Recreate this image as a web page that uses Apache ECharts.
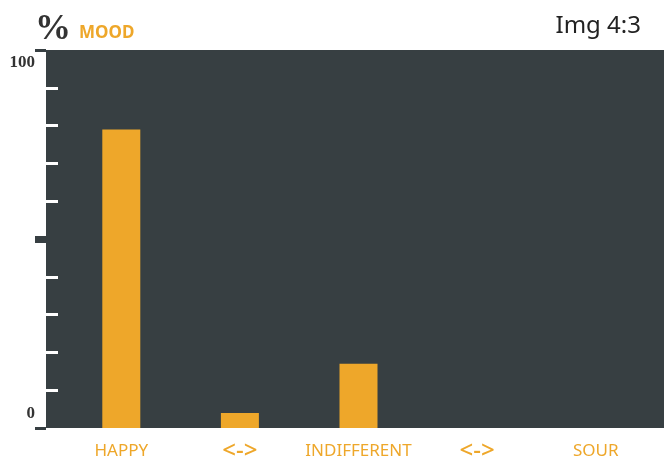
<!DOCTYPE html>
<html>
<head>
<meta charset="utf-8">
<script src="https://cdn.jsdelivr.net/npm/echarts@6/dist/echarts.min.js"></script>
<style>
  html, body { margin: 0; padding: 0; background: #fff; }
  #chart { width: 664px; height: 459px; }
</style>
</head>
<body>
<div id="chart"></div>
<script>
// data
const categories = ['HAPPY', '<->', 'INDIFFERENT', '<->', 'SOUR']
const moodValues = [79, 4, 17, 0, 0]
const yLabelValues = [0, 100]        // only these get a label
const yMidTick = [50]                // the fat tick in the middle
const yMinorTicks = [10, 20, 30, 40, 60, 70, 80, 90]

const DARK = '#373f42'
const ORANGE = '#eea72a'

const chart = echarts.init(document.getElementById('chart'))

// shared y range
const yBase = { type: 'value', min: 0, max: 100, splitLine: { show: false }, axisLine: { show: false } }

const yLabelFont = { color: '#333', fontFamily: 'Liberation Serif', fontWeight: 'bold', fontSize: 17 }

const option = {
  animation: false,
  graphic: [
    { type: 'text', left: 35, top: 12, style: { text: '%', font: 'bold 36px "Liberation Serif"', fill: '#333' } },
    { type: 'text', left: 79, top: 25, style: { text: 'MOOD', font: 'bold 17px "Noto Sans"', fill: ORANGE } },
    { type: 'text', right: 23, top: 14, style: { text: 'Img 4:3', font: '24px "Noto Sans"', fill: '#222' } }
  ],
  grid: [
    // background + y axis
    { left: 46, right: 0, top: 50, bottom: 31, show: true, backgroundColor: DARK, borderWidth: 0, outerBoundsMode: 'none' },
    // bars
    { left: 62, right: 9, top: 50, bottom: 31, outerBoundsMode: 'none' }
  ],
  xAxis: [
    { gridIndex: 0, type: 'category', data: categories, show: false },
    {
      gridIndex: 1,
      type: 'category',
      data: categories,
      axisLine: { show: false },
      axisTick: { show: false },
      axisLabel: {
        interval: 0,
        color: ORANGE,
        fontFamily: 'Noto Sans',
        fontSize: 17,
        lineHeight: 24,
        margin: 11,
        // the arrows are drawn larger than the words
        formatter: v => (v === '<->' ? '{arrow|' + v + '}' : v),
        rich: {
          arrow: { color: ORANGE, fontFamily: 'Noto Sans', fontSize: 24, fontWeight: 500, lineHeight: 24 }
        }
      }
    }
  ],
  yAxis: [
    Object.assign({}, yBase, {
      gridIndex: 0,
      position: 'left',
      axisTick: { show: true, length: 11, customValues: yLabelValues, lineStyle: { color: DARK, width: 3 } },
      axisLabel: {
        customValues: yLabelValues,
        margin: 11,
        formatter: v => (v === 100 ? '{hi|' + v + '}' : '{lo|' + v + '}'),
        rich: {
          hi: Object.assign({ padding: [26, 0, 0, 0] }, yLabelFont),
          lo: Object.assign({ padding: [0, 0, 28, 0] }, yLabelFont)
        }
      }
    }),
    Object.assign({}, yBase, {
      gridIndex: 0,
      position: 'left',
      axisLabel: { show: false },
      axisTick: { show: true, length: 11, customValues: yMidTick, lineStyle: { color: DARK, width: 7 } }
    }),
    Object.assign({}, yBase, {
      gridIndex: 0,
      position: 'left',
      axisLabel: { show: false },
      axisTick: { show: true, inside: true, length: 12, customValues: yMinorTicks, lineStyle: { color: '#fff', width: 3 } }
    }),
    Object.assign({}, yBase, { gridIndex: 1, show: false })
  ],
  series: [
    {
      type: 'bar',
      xAxisIndex: 1,
      yAxisIndex: 3,
      data: moodValues,
      barWidth: 38,
      itemStyle: { color: ORANGE }
    }
  ]
}

chart.setOption(option)
window.addEventListener('resize', () => chart.resize())
</script>
</body>
</html>
